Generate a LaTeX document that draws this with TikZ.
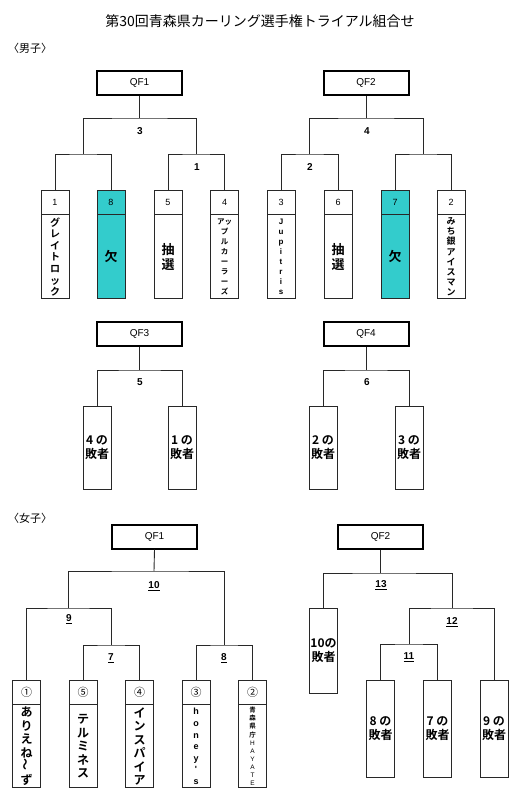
\documentclass[tikz,border=0pt]{standalone}
\usepackage{fontspec}
\setmainfont[BoldFont={Noto Sans CJK JP Bold}]{Noto Sans CJK JP}
\newfontfamily\lat{Liberation Sans}
\definecolor{absentcyan}{RGB}{51,204,204}
\definecolor{linegray}{RGB}{40,40,40}
\begin{document}
\begin{tikzpicture}[x=1pt,y=-1pt,
  qf/.style={draw=black, line width=2pt, minimum width=85pt, minimum height=24pt, inner sep=0pt, font=\lat\fontsize{10}{12}\selectfont},
  numcell/.style={draw=linegray, line width=0.9pt, minimum width=28pt, minimum height=24pt, inner sep=0pt, font=\lat\fontsize{9}{10}\selectfont},
  circcell/.style={numcell, font=\fontsize{11}{12}\selectfont},
  namecell/.style={draw=linegray, line width=0.9pt, minimum width=28pt, minimum height=#1, inner sep=0pt, align=center, anchor=north},
  namecell/.default=84pt,
  losebox/.style={draw=linegray, line width=0.9pt, minimum width=28pt, minimum height=#1, inner sep=0pt, align=center, font=\bfseries\fontsize{12}{14.5}\selectfont},
  absent/.style={fill=absentcyan},
  conn/.style={draw=linegray, line width=0.9pt},
  rnd/.style={font=\lat\bfseries\fontsize{10}{12}\selectfont, inner sep=0pt},
  hdr/.style={font=\fontsize{11}{13}\selectfont, anchor=west, inner sep=0pt}
]
\useasboundingbox (0,0) rectangle (520,800);
\fill[white] (0,0) rectangle (520,800);

% title and headers
\node[font=\fontsize{14}{16}\selectfont, inner sep=0pt] (title) at (260,21) {第30回青森県カーリング選手権トライアル組合せ};
\node[hdr] (men) at (8,48) {〈男子〉};
\node[hdr] (women) at (8,518) {〈女子〉};

% ===== Men QF1 =====
\node[qf] (mqf1) at (139.5,83) {QF1};
\node[numcell] (m1n) at (55,202) {1};
\node[namecell, font=\bfseries\fontsize{10}{11.6}\selectfont] (m1b) at (m1n.south) {グ\\レ\\イ\\ト\\ロ\\ッ\\ク};
\node[numcell, absent] (m8n) at (111,202) {8};
\node[namecell, absent, font=\bfseries\fontsize{13}{15}\selectfont] (m8b) at (m8n.south) {欠};
\node[numcell] (m5n) at (168,202) {5};
\node[namecell, font=\bfseries\fontsize{13}{15.5}\selectfont] (m5b) at (m5n.south) {抽\\選};
\node[numcell] (m4n) at (224.5,202) {4};
\node[namecell, font=\bfseries\fontsize{7.5}{10}\selectfont] (m4b) at (m4n.south) {アッ\\プ\\ル\\カ\\ー\\ラ\\ー\\ズ};

\coordinate (jA) at (83,154);
\coordinate (j3) at (139.5,118);
\coordinate (j1) at (196,154);
\draw[conn] (mqf1.south) -- (j3);
\draw[conn] (jA) |- (j3) -| (j1);
\draw[conn] (m1n.north) |- (jA) -| (m8n.north);
\draw[conn] (m5n.north) |- (j1) -| (m4n.north);
\node[rnd] (l3) at (140,131) {3};
\node[rnd] (l1) at (197,167) {1};

% ===== Men QF2 =====
\node[qf] (mqf2) at (366,83) {QF2};
\node[numcell] (m3n) at (281,202) {3};
\node[namecell, font=\lat\bfseries\fontsize{8}{10}\selectfont] (m3b) at (m3n.south) {J\\u\\p\\i\\t\\r\\i\\s};
\node[numcell] (m6n) at (338,202) {6};
\node[namecell, font=\bfseries\fontsize{13}{15.5}\selectfont] (m6b) at (m6n.south) {抽\\選};
\node[numcell, absent] (m7n) at (395,202) {7};
\node[namecell, absent, font=\bfseries\fontsize{13}{15}\selectfont] (m7b) at (m7n.south) {欠};
\node[numcell] (m2n) at (451,202) {2};
\node[namecell, font=\bfseries\fontsize{9}{10.2}\selectfont] (m2b) at (m2n.south) {み\\ち\\銀\\ア\\イ\\ス\\マ\\ン};

\coordinate (jB) at (309.5,154);
\coordinate (j4) at (366,118);
\coordinate (j2) at (423,154);
\draw[conn] (mqf2.south) -- (j4);
\draw[conn] (jB) |- (j4) -| (j2);
\draw[conn] (m3n.north) |- (jB) -| (m6n.north);
\draw[conn] (m7n.north) |- (j2) -| (m2n.north);
\node[rnd] (l4) at (367,131) {4};
\node[rnd] (l2) at (310,167) {2};

% ===== Men QF3 / QF4 =====
\node[qf] (mqf3) at (139.5,334) {QF3};
\node[losebox=83pt] (lo4) at (97,447.5) {4 の\\敗者};
\node[losebox=83pt] (lo1) at (182,447.5) {1 の\\敗者};
\coordinate (j5) at (139.5,370);
\draw[conn] (mqf3.south) -- (j5);
\draw[conn] (lo4.north) |- (j5) -| (lo1.north);
\node[rnd] (l5) at (140,382) {5};

\node[qf] (mqf4) at (366,334) {QF4};
\node[losebox=83pt] (lo2) at (323,447.5) {2 の\\敗者};
\node[losebox=83pt] (lo3) at (409,447.5) {3 の\\敗者};
\coordinate (j6) at (366,370);
\draw[conn] (mqf4.south) -- (j6);
\draw[conn] (lo2.north) |- (j6) -| (lo3.north);
\node[rnd] (l6) at (367,382) {6};

% ===== Women QF1 =====
\node[qf] (wqf1) at (154.5,536.5) {QF1};
\node[circcell] (w1n) at (26.5,692) {①};
\node[namecell=83pt, font=\bfseries\fontsize{12}{13.5}\selectfont] (w1b) at (w1n.south) {あ\\り\\え\\ね\\\rotatebox{90}{～}\\ず};
\node[circcell] (w5n) at (83,692) {⑤};
\node[namecell=83pt, font=\bfseries\fontsize{12}{13.5}\selectfont] (w5b) at (w5n.south) {テ\\ル\\ミ\\ネ\\ス};
\node[circcell] (w4n) at (139.5,692) {④};
\node[namecell=83pt, font=\bfseries\fontsize{12}{13.5}\selectfont] (w4b) at (w4n.south) {イ\\ン\\ス\\パ\\イ\\ア};
\node[circcell] (w3n) at (196,692) {③};
\node[namecell=83pt, font=\lat\bfseries\fontsize{9}{11.6}\selectfont] (w3b) at (w3n.south) {h\\o\\n\\e\\y\\'\\s};
\node[circcell] (w2n) at (252.5,692) {②};
\node[namecell=83pt, font=\bfseries\fontsize{6.5}{8.1}\selectfont] (w2b) at (w2n.south) {青\\森\\県\\庁\\{\lat\mdseries H}\\{\lat\mdseries A}\\{\lat\mdseries Y}\\{\lat\mdseries A}\\{\lat\mdseries T}\\{\lat\mdseries E}};

\coordinate (w10) at (154,571);
\coordinate (w9) at (68,608);
\coordinate (w7) at (111,645);
\coordinate (w8) at (224,645);
\draw[conn] (wqf1.south) -- (w10);
\draw[conn] (w9) |- (w10) -| (w8);
\draw[conn] (w1n.north) |- (w9) -| (w7);
\draw[conn] (w5n.north) |- (w7) -| (w4n.north);
\draw[conn] (w3n.north) |- (w8) -| (w2n.north);
\node[rnd] (l10) at (154,586) {\underline{10}};
\node[rnd] (l9) at (69,619) {\underline{9}};
\node[rnd] (l7) at (111,658) {\underline{7}};
\node[rnd] (l8) at (224,658) {\underline{8}};

% ===== Women QF2 =====
\node[qf] (wqf2) at (380.5,537) {QF2};
\node[losebox=85pt] (lw10) at (323.5,650.5) {10の\\敗者};
\node[losebox=97pt] (lw8) at (380.5,728.5) {8 の\\敗者};
\node[losebox=97pt] (lw7) at (437.5,728.5) {7 の\\敗者};
\node[losebox=97pt] (lw9) at (494,728.5) {9 の\\敗者};

\coordinate (w13) at (380.5,573);
\coordinate (w12) at (452,608);
\coordinate (w11) at (409,644);
\draw[conn] (wqf2.south) -- (w13);
\draw[conn] (lw10.north) |- (w13) -| (w12);
\draw[conn] (w11) |- (w12) -| (lw9.north);
\draw[conn] (lw8.north) |- (w11) -| (lw7.north);
\node[rnd] (l13) at (381,585) {\underline{13}};
\node[rnd] (l12) at (452,622) {\underline{12}};
\node[rnd] (l11) at (409,657) {\underline{11}};
\end{tikzpicture}
\end{document}
